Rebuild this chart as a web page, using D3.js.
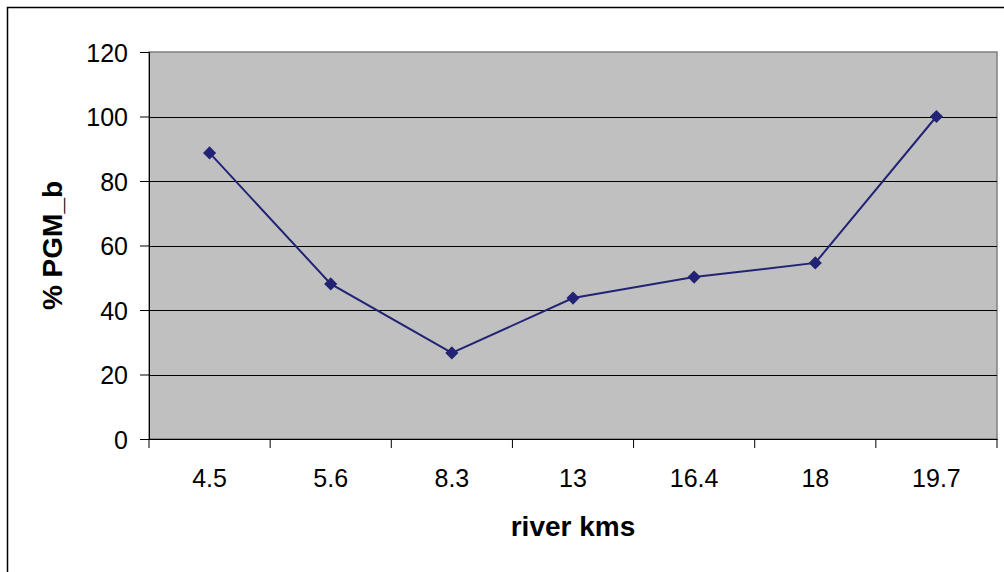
<!DOCTYPE html>
<html><head><meta charset="utf-8">
<script src="https://cdn.jsdelivr.net/npm/d3@7"></script>
<style>body{margin:0;background:#fff;}svg{display:block;font-family:"Liberation Sans",Arial,sans-serif;}</style>
</head><body><svg id="c" width="1004" height="572"></svg>
<script>
const categories = ["4.5","5.6","8.3","13","16.4","18","19.7"];
const values = [88.7, 48.1, 26.7, 43.7, 50.2, 54.6, 100];
const yTicks = [0,20,40,60,80,100,120];
const xTitle = "river kms";
const yTitle = "% PGM_b";

const svg = d3.select("#c");
const L=149, R=997, T=52, B=439;
svg.append("rect").attr("x",7.5).attr("y",7.5).attr("width",1100).attr("height",700).attr("fill","none").attr("stroke","#000").attr("stroke-width",1.5);
const x = d3.scaleBand().domain(categories).range([L,R]);
const y = d3.scaleLinear().domain([0,120]).range([B,T]);
svg.append("rect").attr("x",L).attr("y",T).attr("width",R-L).attr("height",B-T).attr("fill","#C0C0C0").attr("stroke","#808080").attr("stroke-width",1.5);
svg.append("g").selectAll("line").data(yTicks.filter(d=>d>0&&d<120)).join("line")
 .attr("x1",L).attr("x2",R).attr("y1",d=>Math.round(y(d))+0.5).attr("y2",d=>Math.round(y(d))+0.5).attr("stroke","#000").attr("stroke-width",1);
const ya = svg.append("g").attr("transform",`translate(${L},0)`).call(d3.axisLeft(y).tickValues(yTicks).tickSize(9).tickPadding(12));
ya.attr("font-size",null).attr("font-family",null);
ya.selectAll("text").attr("font-size",25).attr("fill","#000").attr("dy","0.36em");
ya.selectAll("line,path").attr("stroke","#000");
const xa = svg.append("g").attr("transform",`translate(0,${B})`).call(d3.axisBottom(x).tickSize(0).tickPadding(30));
xa.attr("font-size",null).attr("font-family",null);
xa.selectAll("text").attr("font-size",25).attr("fill","#000");
xa.select("path").attr("stroke","#000");
const edges = categories.map(c=>x(c)).concat([x(categories[categories.length-1])+x.bandwidth()]);
xa.append("g").selectAll("line").data(edges).join("line").attr("x1",d=>d).attr("x2",d=>d).attr("y1",0).attr("y2",9).attr("stroke","#000");
const cx = c=>x(c)+x.bandwidth()/2;
svg.append("path").datum(values).attr("fill","none").attr("stroke","#232375").attr("stroke-width",2)
 .attr("d",d3.line().x((d,i)=>cx(categories[i])).y(d=>y(d)));
svg.append("g").selectAll("path").data(values).join("path")
 .attr("transform",(d,i)=>`translate(${cx(categories[i])},${y(d)})`)
 .attr("d",d3.symbol().type(d3.symbolDiamond2).size(110)).attr("fill","#232375");
svg.append("text").attr("x",573).attr("y",536).attr("text-anchor","middle").attr("font-size",28).attr("font-weight","bold").text(xTitle);
svg.append("text").attr("transform",`translate(62,${(T+B)/2}) rotate(-90)`).attr("text-anchor","middle").attr("font-size",28).attr("font-weight","bold").text(yTitle);
</script></body></html>
